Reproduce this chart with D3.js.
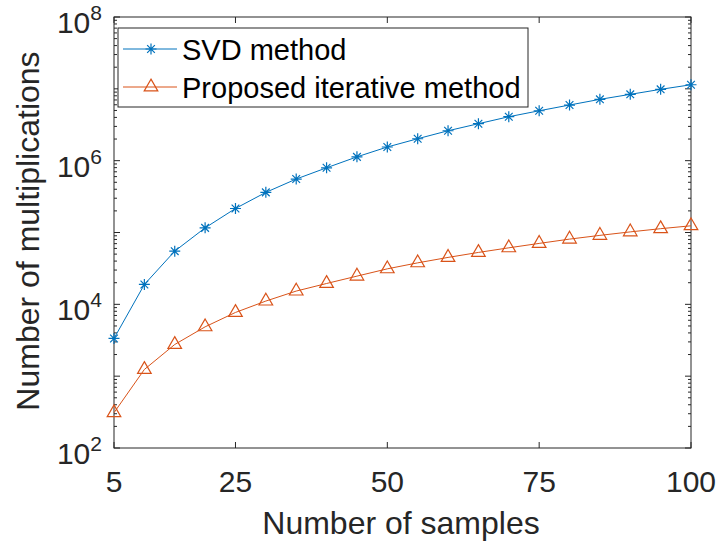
<!DOCTYPE html>
<html>
<head>
<meta charset="utf-8">
<script src="https://cdn.jsdelivr.net/npm/d3@7"></script>
<style>
  body { margin: 0; background: #fff; }
  text { font-family: "Liberation Sans", Arial, Helvetica, sans-serif; }
</style>
</head>
<body>
<svg id="chart" width="719" height="552"></svg>
<script>
// data
const samples = [5, 10, 15, 20, 25, 30, 35, 40, 45, 50, 55, 60, 65, 70, 75, 80, 85, 90, 95, 100];
const svdMults = [3350, 18900, 55000, 116000, 216000, 362000, 555000, 796000, 1130000, 1550000,
    2020000, 2610000, 3270000, 4090000, 4950000, 5950000, 7140000, 8380000, 9840000, 11400000];
const iterMults = [310, 1240, 2760, 4860, 7710, 11100, 15300, 19500, 24700, 31200,
    37800, 45000, 52800, 61200, 70500, 80900, 91200, 102000, 113000, 124000];
const xTicks = [5, 25, 50, 75, 100];
const yExponents = [2, 4, 6, 8];
const seriesNames = ["SVD method", "Proposed iterative method"];

const svg = d3.select("svg#chart");
const margin = { top: 17, right: 28, bottom: 104, left: 114 };
const width = +svg.attr("width");
const height = +svg.attr("height");
const chartWidth = width - margin.left - margin.right;
const chartHeight = height - margin.top - margin.bottom;
const axisColor = "#262626";
const blue = "#0072BD", orange = "#D95319";

const x = d3.scaleLinear().domain([5, 100]).range([0, chartWidth]);
const y = d3.scaleLog().domain([1e2, 1e8]).range([chartHeight, 0]);

const g = svg.append("g").attr("transform", `translate(${margin.left},${margin.top})`);

// minor log ticks (2..9 per decade)
let minor = [];
for (let e = 2; e < 8; e++) for (let k = 2; k <= 9; k++) minor.push(k * Math.pow(10, e));

const ticks = g.append("g").attr("class", "ticks").attr("stroke", axisColor).attr("stroke-width", 1);
// x ticks bottom + top, inward
ticks.selectAll("line.xb").data(xTicks).join("line").attr("class", "xb")
    .attr("x1", d => x(d)).attr("x2", d => x(d)).attr("y1", chartHeight).attr("y2", chartHeight - 6);
ticks.selectAll("line.xt").data(xTicks).join("line").attr("class", "xt")
    .attr("x1", d => x(d)).attr("x2", d => x(d)).attr("y1", 0).attr("y2", 6);
// y major + minor, left + right
const yMajor = yExponents.concat([3, 5, 7]).map(e => Math.pow(10, e));
[0, chartWidth].forEach((xp, i) => {
    const dir = i === 0 ? 1 : -1;
    ticks.append("g").selectAll("line").data(yMajor).join("line")
        .attr("x1", xp).attr("x2", xp + dir * 6).attr("y1", d => y(d)).attr("y2", d => y(d));
    ticks.append("g").selectAll("line").data(minor).join("line")
        .attr("x1", xp).attr("x2", xp + dir * 3).attr("y1", d => y(d)).attr("y2", d => y(d));
});

// box
g.append("rect").attr("width", chartWidth).attr("height", chartHeight)
    .attr("fill", "none").attr("stroke", axisColor).attr("stroke-width", 1);

// x tick labels
g.append("g").selectAll("text").data(xTicks).join("text")
    .attr("x", d => x(d)).attr("y", chartHeight + 44)
    .attr("text-anchor", "middle").attr("font-size", 30).attr("fill", axisColor)
    .text(d => d);

// y tick labels 10^n
const yl = g.append("g").selectAll("text").data(yExponents).join("text")
    .attr("x", -12).attr("y", d => y(Math.pow(10, d)) + 16)
    .attr("text-anchor", "end").attr("font-size", 30).attr("fill", axisColor);
yl.append("tspan").text("10");
yl.append("tspan").attr("dy", -13).attr("font-size", 21).text(d => d);

// axis titles
svg.append("text").attr("x", 401).attr("y", 534).attr("text-anchor", "middle")
    .attr("font-size", 32).attr("fill", axisColor).text("Number of samples");
svg.append("text").attr("transform", "translate(39,231) rotate(-90)").attr("text-anchor", "middle")
    .attr("font-size", 32).attr("fill", axisColor).text("Number of multiplications");

// lines
const line = d3.line().x((d, i) => x(samples[i])).y(d => y(d));
const plot = g.append("g");
plot.append("path").attr("d", line(svdMults)).attr("fill", "none").attr("stroke", blue).attr("stroke-width", 1);
plot.append("path").attr("d", line(iterMults)).attr("fill", "none").attr("stroke", orange).attr("stroke-width", 1);

function star(sel, color) {
    const r = 5.5;
    sel.append("path")
        .attr("d", `M${-r},0H${r}M0,${-r}V${r}M${-r * 0.7},${-r * 0.7}L${r * 0.7},${r * 0.7}M${-r * 0.7},${r * 0.7}L${r * 0.7},${-r * 0.7}`)
        .attr("stroke", color).attr("stroke-width", 1.2).attr("fill", "none");
}
function tri(sel, color) {
    sel.append("path").attr("d", d3.symbol(d3.symbolTriangle, 80)())
        .attr("stroke", color).attr("stroke-width", 1.2).attr("fill", "none");
}

plot.append("g").selectAll("g").data(svdMults).join("g")
    .attr("transform", (d, i) => `translate(${x(samples[i])},${y(d)})`)
    .call(star, blue);
plot.append("g").selectAll("g").data(iterMults).join("g")
    .attr("transform", (d, i) => `translate(${x(samples[i])},${y(d)})`)
    .call(tri, orange);

// legend
const legend = svg.append("g").attr("transform", "translate(118,28)");
legend.append("rect").attr("width", 410).attr("height", 79)
    .attr("fill", "#fff").attr("stroke", axisColor).attr("stroke-width", 1);
const rows = legend.selectAll("g.row").data(seriesNames).join("g").attr("class", "row")
    .attr("transform", (d, i) => `translate(0,${21 + i * 38})`);
rows.append("line").attr("x1", 5).attr("x2", 59).attr("y1", 0).attr("y2", 0)
    .attr("stroke", (d, i) => i === 0 ? blue : orange).attr("stroke-width", 1);
rows.each(function (d, i) {
    const m = d3.select(this).append("g").attr("transform", "translate(33,0)");
    if (i === 0) star(m, blue); else tri(m, orange);
});
rows.append("text").attr("x", 64).attr("y", 11).attr("font-size", 29).attr("fill", "#000").text(d => d);
</script>
</body>
</html>
